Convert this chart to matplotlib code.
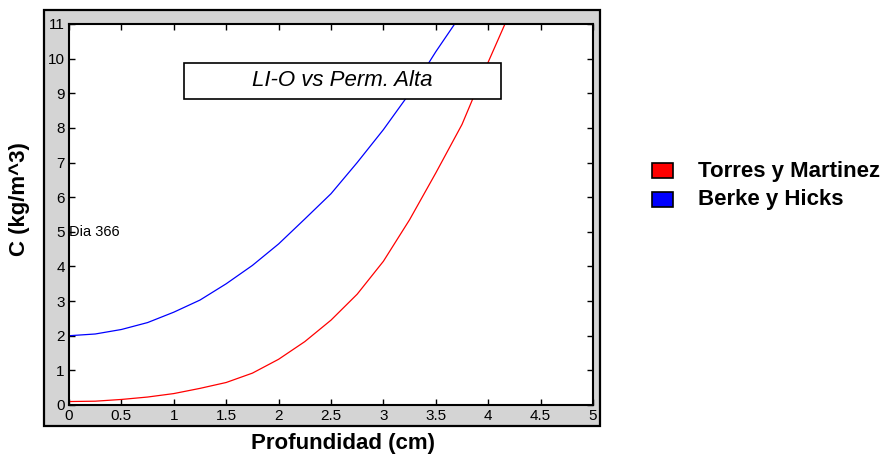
import matplotlib
matplotlib.use("Agg")
import matplotlib.pyplot as plt
from matplotlib.patches import Rectangle

plt.rcParams['font.family'] = ['Liberation Sans', 'DejaVu Sans']

# Concentration profiles (kg/m^3) versus depth (cm)
depth_tm = [0, 0.25, 0.5, 0.75, 1.0, 1.25, 1.5, 1.75, 2.0, 2.25, 2.5, 2.75,
            3.0, 3.25, 3.5, 3.75, 4.0, 4.16]
conc_tm = [0.10, 0.11, 0.16, 0.23, 0.33, 0.48, 0.65, 0.92, 1.32, 1.83, 2.45,
           3.20, 4.15, 5.35, 6.70, 8.10, 9.90, 11.0]

depth_bh = [0, 0.25, 0.5, 0.75, 1.0, 1.25, 1.5, 1.75, 2.0, 2.25, 2.5, 2.75,
            3.0, 3.25, 3.5, 3.68]
conc_bh = [2.00, 2.05, 2.18, 2.38, 2.68, 3.03, 3.50, 4.03, 4.65, 5.37, 6.10,
           7.00, 7.95, 9.00, 10.20, 11.0]

series_labels = ["Torres y Martinez", "Berke y Hicks"]
series_colors = ["#ff0000", "#0000ff"]

x_ticks = [0, 0.5, 1, 1.5, 2, 2.5, 3, 3.5, 4, 4.5, 5]
x_ticklabels = ["0", "0.5", "1", "1.5", "2", "2.5", "3", "3.5", "4", "4.5", "5"]
y_ticks = list(range(0, 12))

title_text = "LI-O vs Perm. Alta"
note_text = "Dia 366"
note_pos = (0.0, 5.0)

W, H = 887, 457
fig = plt.figure(figsize=(W / 100, H / 100), dpi=100)
fig.patch.set_facecolor("white")

def fx(px):
    return px / W

def fy(py):
    return 1 - py / H

# grey frame behind the axes
fig.patches.append(Rectangle((fx(44), fy(426)), fx(600) - fx(44), fy(10) - fy(426),
                             transform=fig.transFigure, facecolor="#d4d4d4",
                             edgecolor="black", linewidth=1.6, zorder=0))

ax = fig.add_axes([fx(69), fy(405), fx(593) - fx(69), fy(24) - fy(405)])
ax.set_facecolor("white")
ax.set_zorder(1)

ax.plot(depth_tm, conc_tm, color=series_colors[0], linewidth=0.9)
ax.plot(depth_bh, conc_bh, color=series_colors[1], linewidth=0.9)

ax.set_xlim(0, 5)
ax.set_ylim(0, 11)
ax.set_xticks(x_ticks)
ax.set_xticklabels(x_ticklabels)
ax.set_yticks(y_ticks)
ax.tick_params(direction="in", length=4, width=1, top=True, right=True,
               labelsize=11, pad=3, colors="black")
ax.tick_params(axis="x", pad=3)
for s in ax.spines.values():
    s.set_linewidth(1.5)

ax.text(note_pos[0], note_pos[1], note_text, fontsize=10.5, va="center",
        ha="left")

# title box
fig.patches.append(Rectangle((fx(184), fy(99)), fx(501) - fx(184), fy(63) - fy(99),
                             transform=fig.transFigure, facecolor="white",
                             edgecolor="black", linewidth=1.2, zorder=5))
fig.text(fx(342), fy(81), title_text, fontsize=16, style="italic",
         ha="center", va="center", zorder=6)

# axis labels
fig.text(fx(343), fy(443), "Profundidad (cm)", fontsize=16, fontweight="bold",
         ha="center", va="center")
fig.text(fx(20), fy(199), "C (kg/m^3)", fontsize=16, fontweight="bold",
         ha="center", va="center", rotation=90)

# legend
for i, (lab, col) in enumerate(zip(series_labels, series_colors)):
    top = 163 + i * 29
    fig.patches.append(Rectangle((fx(652), fy(top + 15)), fx(673) - fx(652),
                                 fy(top) - fy(top + 15), transform=fig.transFigure,
                                 facecolor=col, edgecolor="black", linewidth=1.2))
    fig.text(fx(698), fy(top + 8), lab, fontsize=16, fontweight="bold",
             ha="left", va="center")

fig.savefig("out.png", dpi=100)
